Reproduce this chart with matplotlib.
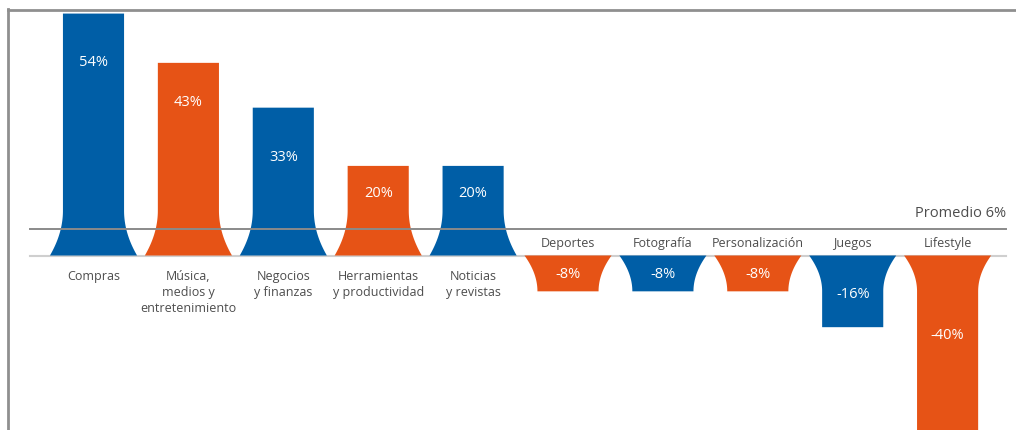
import numpy as np
import matplotlib.pyplot as plt
from matplotlib.patches import Polygon
from matplotlib.lines import Line2D

# --- data ---
categories = ['Compras', 'Música,\nmedios y\nentretenimiento', 'Negocios\ny finanzas',
              'Herramientas\ny productividad', 'Noticias\ny revistas', 'Deportes',
              'Fotografía', 'Personalización', 'Juegos', 'Lifestyle']
values = [54, 43, 33, 20, 20, -8, -8, -8, -16, -40]
average = 6

BLUE = '#005ea6'
ORANGE = '#e65316'
bar_colors = [BLUE, ORANGE, BLUE, ORANGE, BLUE, ORANGE, BLUE, ORANGE, BLUE, ORANGE]
TEXT = '#4d4d4d'

# where the white value label sits, as a fraction of the bar length
label_frac = [0.8, 0.8, 0.67, 0.7, 0.7, 0.5, 0.5, 0.5, 0.53, 0.44]

plt.rcParams['font.family'] = ['Open Sans', 'DejaVu Sans']

fig = plt.figure(figsize=(10.16, 4.31), dpi=100)
ax = fig.add_axes([0, 0, 1, 1])
ax.set_axis_off()

# pixel mapping: centre of first bar at 93px, 95px per category, zero at 256px, 4.48px per %
px_x = 94.9
px_y = 4.48
ax.set_xlim(-93.5 / px_x, (1016 - 93.5) / px_x)
ax.set_ylim(-(431 - 256.5) / px_y, 256.5 / px_y)

half_w = 0.322      # half width of bar body
flare_w = 0.137     # extra half width at the base
flare_pos = 10.0    # flare height for positive bars (in %)
flare_neg = 8.0     # flare height for negative bars


def flared_bar(c, v, color):
    sign = 1 if v >= 0 else -1
    h = flare_pos if v >= 0 else flare_neg
    d = np.linspace(0, abs(v), 200)
    off = np.where(d < h, flare_w * (1 - np.clip(d / h, 0, 1)) ** 2, 0)
    left = np.column_stack([c - half_w - off, sign * d])
    right = np.column_stack([c + half_w + off, sign * d])[::-1]
    poly = Polygon(np.vstack([left, right]), closed=True, facecolor=color,
                   edgecolor='none', zorder=2)
    ax.add_patch(poly)


x = np.arange(len(values))
for xi, v, col in zip(x, values, bar_colors):
    flared_bar(xi, v, col)

# reference lines
x0 = (30 - 93.5) / px_x
x1 = (1006 - 93.5) / px_x
ax.plot([x0, x1], [0, 0], color='#cfcfcf', lw=1.5, zorder=1)
ax.plot([x0, x1], [average, average], color='#8a8a8a', lw=1.4, zorder=3)
ax.text(x1, average + 2.0, f'Promedio {average}%', ha='right', va='bottom',
        fontsize=10.5, color=TEXT)

# labels
for xi, v, lab, fr in zip(x, values, categories, label_frac):
    ax.text(xi, v * fr, f'{v}%', ha='center', va='center', color='white', fontsize=10.5, zorder=4)
    if v >= 0:
        ax.text(xi, -3.0, lab, ha='center', va='top', color=TEXT, fontsize=9,
                linespacing=1.3)
    else:
        ax.text(xi, 1.5, lab, ha='center', va='bottom', color=TEXT, fontsize=9)

# frame lines (left and top)
fig.add_artist(Line2D([7.5 / 1016, 7.5 / 1016], [0, 1 - 10 / 431], color='#8f8f8f', lw=2))
fig.add_artist(Line2D([7.5 / 1016, 1], [1 - 10.5 / 431, 1 - 10.5 / 431], color='#8f8f8f', lw=2))

fig.savefig('out.png', dpi=100)
